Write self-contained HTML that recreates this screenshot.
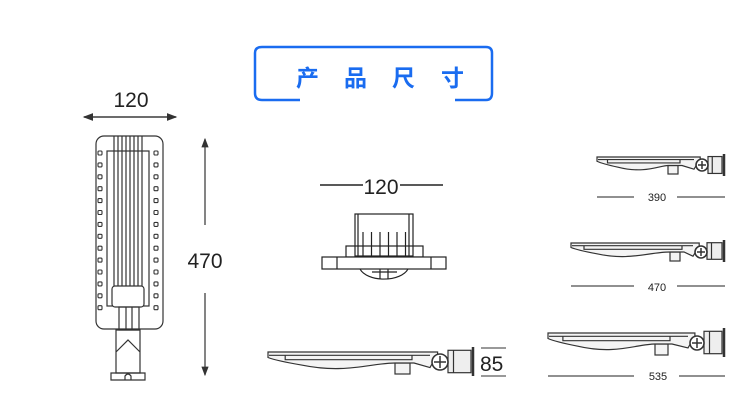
<!DOCTYPE html>
<html><head><meta charset="utf-8"><style>
html,body{margin:0;padding:0;background:#fff;}
svg{display:block;}
text{font-family:"Liberation Sans","DejaVu Sans",sans-serif;fill:#222;}
</style></head><body>
<svg id="s" width="750" height="411" viewBox="0 0 750 411" xmlns="http://www.w3.org/2000/svg">
<defs>
<marker id="a" markerWidth="8" markerHeight="8" refX="7" refY="4" orient="auto"><path d="M0,1 L8,4 L0,7 Z" fill="#333"/></marker>
</defs>
<path d="M300,100 H262 Q255,100 255,93 V53 Q255,47 262,47 H486 Q492,47 492,53 V93 Q492,100 486,100 H455" fill="none" stroke="#1a6cf0" stroke-width="2.5"/>
<text x="296" y="86" font-size="23" font-weight="bold" style="fill:#1a6cf0;font-family:'Noto Sans CJK SC',sans-serif">产</text>
<text x="344" y="86" font-size="23" font-weight="bold" style="fill:#1a6cf0;font-family:'Noto Sans CJK SC',sans-serif">品</text>
<text x="392" y="86" font-size="23" font-weight="bold" style="fill:#1a6cf0;font-family:'Noto Sans CJK SC',sans-serif">尺</text>
<text x="441" y="86" font-size="23" font-weight="bold" style="fill:#1a6cf0;font-family:'Noto Sans CJK SC',sans-serif">寸</text>

<text x="131" y="107" font-size="21" text-anchor="middle">120</text>
<line x1="84" y1="117" x2="176" y2="117" stroke="#333" stroke-width="1.3" marker-end="url(#a)"/>
<line x1="176" y1="117" x2="84" y2="117" stroke="#333" stroke-width="1.3" marker-end="url(#a)"/>
<g fill="none" stroke="#333" stroke-width="1.2">
<rect x="96" y="136" width="67" height="193" rx="8"/>
<rect x="107" y="151" width="42" height="155"/>
<g id="lines"></g>
<rect x="112" y="286" width="32" height="21" rx="3" fill="#fff"/>
<rect x="119" y="307" width="20" height="23"/>
<path d="M116,330 H140 V373 H116 Z M116,352 L128,340 L140,352"/>
<path d="M111,380 V373 H145 V380 Z M125,380 V376 Q128,372 131,376 V380"/>
</g>
<g id="dots" fill="none" stroke="#333" stroke-width="1.1"></g>
<line x1="205" y1="225" x2="205" y2="139" stroke="#333" stroke-width="1.2" marker-end="url(#a)"/>
<line x1="205" y1="293" x2="205" y2="375" stroke="#333" stroke-width="1.2" marker-end="url(#a)"/>
<text x="205" y="268" font-size="21" text-anchor="middle">470</text>

<text x="381" y="194" font-size="21" text-anchor="middle">120</text>
<line x1="320" y1="185" x2="363" y2="185" stroke="#222" stroke-width="1.5"/>
<line x1="400" y1="185" x2="443" y2="185" stroke="#222" stroke-width="1.5"/>
<g fill="none" stroke="#222" stroke-width="1.2">
<rect x="355" y="214" width="58" height="42" fill="#fff"/>
<line x1="358" y1="214" x2="358" y2="256"/><line x1="409" y1="214" x2="409" y2="256"/>
<rect x="346" y="246" width="77" height="11"/>
<rect x="322" y="257" width="124" height="12" fill="#fff"/>
<line x1="337" y1="257" x2="337" y2="269"/><line x1="431" y1="257" x2="431" y2="269"/>
<path d="M360,269 A25,14 0 0 0 408,269"/>
<path d="M380,269 V279 M388,269 V279 M372,272 H397"/>
</g>
<g id="fins" stroke="#222" stroke-width="1.2"></g>

<line x1="481" y1="348" x2="506" y2="348" stroke="#333"/>
<line x1="481" y1="376" x2="506" y2="376" stroke="#333"/>
<text x="480" y="371" font-size="21">85</text>
<text x="657" y="201" font-size="11" text-anchor="middle">390</text>
<line x1="597" y1="197" x2="634" y2="197" stroke="#222"/><line x1="677" y1="197" x2="725" y2="197" stroke="#222"/>
<text x="657" y="291" font-size="11" text-anchor="middle">470</text>
<line x1="571" y1="286" x2="634" y2="286" stroke="#222"/><line x1="677" y1="286" x2="725" y2="286" stroke="#222"/>
<text x="658" y="380" font-size="11" text-anchor="middle">535</text>
<line x1="548" y1="376" x2="634" y2="376" stroke="#222"/><line x1="679" y1="376" x2="725" y2="376" stroke="#222"/>
<g id="sides" fill="#f4f4f4" stroke="#333" stroke-width="1.2"></g>
</svg>
<script>
var NS="http://www.w3.org/2000/svg";
function el(p,t,a){var e=document.createElementNS(NS,t);for(var k in a)e.setAttribute(k,a[k]);document.getElementById(p).appendChild(e);return e;}
for(var i=0;i<14;i++){var y=151+i*11.9;el('dots','rect',{x:98,y:y,width:4,height:4,rx:1});el('dots','rect',{x:154,y:y,width:4,height:4,rx:1});}
for(var i=0;i<8;i++){var x=114+i*4;el('lines','line',{x1:x,y1:136,x2:x,y2:286});}
el('lines','line',{x1:126,y1:307,x2:126,y2:330});el('lines','line',{x1:132,y1:307,x2:132,y2:330});
for(var i=0;i<6;i++){var x=363+i*8.5;el('fins','line',{x1:x,y1:232,x2:x,y2:257});}
function side(L,T,C,cy,r,b1,by0,by1,p0,p1,h){
 var w=C-L, s=h/20;
 el('sides','rect',{x:p0,y:T+h*0.5,width:p1-p0,height:h*0.5});
 el('sides','path',{d:'M'+L+','+T+' H'+(C-r*0.3)+' L'+(C-r*0.3)+','+(cy-r)+
  ' L'+(C-r-2)+','+(cy+r*0.7)+' L'+(p1+4)+','+(T+10*s)+' H'+(p0)+
  ' C'+(L+w*0.6)+','+(T+10*s)+' '+(L+w*0.45)+','+(T+20*s)+' '+(L+w*0.2)+','+(T+12*s)+
  ' Q'+(L+w*0.05)+','+(T+8*s)+' '+L+','+(T+5*s)+' Z'});
 el('sides','path',{d:'M'+(L+1)+','+(T+3*s)+' H'+(C-r-2)+' M'+(L+w*0.1)+','+(T+3*s)+' V'+(T+7*s)+' H'+(p1+2)+' V'+(T+3*s),fill:'none'});
 el('sides','rect',{x:C+r,y:by0+3*s,width:b1-C-r-2,height:by1-by0-6*s,fill:'#eee'});
 el('sides','line',{x1:C+r+5*s,y1:by0+3*s,x2:C+r+5*s,y2:by1-3*s});
 el('sides','line',{x1:b1,y1:by0,x2:b1,y2:by1,'stroke-width':2.5});
 el('sides','circle',{cx:C,cy:cy,r:r,'stroke-width':1.6,fill:'#fff'});
 el('sides','path',{d:'M'+(C-r+2)+','+cy+' H'+(C+r-2)+' M'+C+','+(cy-r+2)+' V'+(cy+r-2),fill:'none','stroke-width':1.5});
}
side(268,352,440,362,8,473,347,376,395,410,22);
side(597,157,702,165,6,724,154,176,668,678,17);
side(571,243,701,252,6,724,240,262,670,680,18);
side(548,333,697,343,7,724,328,357,655,668,22);
</script>
</body></html>
